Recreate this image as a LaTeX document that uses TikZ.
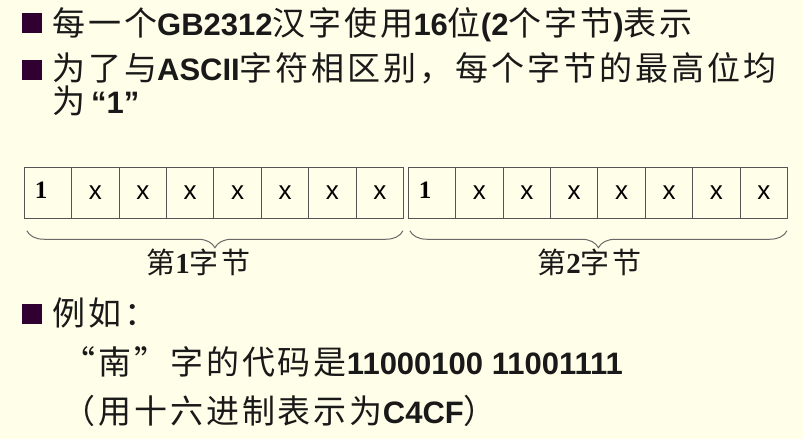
\documentclass[tikz,border=0pt]{standalone}
\usepackage{fontspec}
\setmainfont{Liberation Sans}
\newfontfamily\cjkfont{Noto Sans CJK SC}[LetterSpace=9]
\newfontfamily\arialfont{Liberation Sans}
\newfontfamily\timesfont{Liberation Serif}
\usetikzlibrary{decorations.pathreplacing}
\definecolor{slidebg}{RGB}{255,254,232}
\definecolor{bulletcol}{RGB}{48,0,48}
\definecolor{cellline}{RGB}{85,85,85}
\definecolor{bracecol}{RGB}{105,105,105}
\newcommand{\zh}[1]{{\cjkfont #1}}
\newcommand{\en}[1]{{\arialfont\bfseries\fontsize{31}{36}\selectfont #1}}
\newcommand{\tm}[1]{{\timesfont\bfseries #1}}
\tikzstyle{bullet}=[rectangle,fill=bulletcol,minimum size=20pt,inner sep=0pt]
\tikzstyle{textline}=[anchor=west,inner sep=0pt,text=black!90,font=\cjkfont\fontsize{33}{38}\selectfont]
\tikzstyle{cell}=[draw=cellline,line width=0.9pt,minimum width=47.4pt,minimum height=51pt,inner sep=0pt,font=\arialfont\fontsize{26}{30}\selectfont]
\tikzstyle{bitone}=[anchor=base west,inner sep=0pt,font=\timesfont\bfseries\fontsize{25}{30}\selectfont]
\tikzstyle{bytebrace}=[draw=bracecol,line width=1pt,decorate,decoration={brace,mirror,amplitude=17pt}]
\tikzstyle{bytelabel}=[inner sep=0pt,text=black!90,font=\cjkfont\fontsize{29}{34}\selectfont]

\begin{document}
\begin{tikzpicture}[x=1pt,y=-1pt]

\fill[slidebg] (0,0) rectangle (803,439);
\useasboundingbox (0,0) rectangle (803,439);

	\def\w{47.4};
	\def\h{192.8};

%bullets
    \foreach \pos/\name in {{(32,23)/p1}, {(32,70)/p2}, {(32,314)/p3}}
        \node[bullet] (\name) at \pos {};

%text top
  \node[textline] (t1) at (52,25) {\zh{每一个}\en{GB2312}\zh{汉字使用}\en{16}\zh{位}\en{(2}\zh{个字节}\en{)}\zh{表示}};
  \node[textline] (t2) at (52,68) {\zh{为了与}\en{ASCII}\zh{字符相区别，每个字节的最高位均}};
  \node[textline] (t3) at (52,101) {\zh{为}\hspace{6pt}\en{“1”}};

%byte 1
    \def\base{24.3};
    \foreach \i/\t in {1/,2/x,3/x,4/x,5/x,6/x,7/x,8/x}
        \node[cell] (A\i) at (\base + \i*\w - \w/2, \h) {\t};
%byte 2
    \def\base{408.3};
    \foreach \i/\t in {1/,2/x,3/x,4/x,5/x,6/x,7/x,8/x}
        \node[cell] (B\i) at (\base + \i*\w - \w/2, \h) {\t};

  \node[bitone] (A1one) at ([xshift=10.7pt,yshift=-5.5pt]A1.west) {1};
  \node[bitone] (B1one) at ([xshift=10.7pt,yshift=-5.5pt]B1.west) {1};

%braces
  \draw[bytebrace] ([xshift=3pt,yshift=-12pt]A1.south west) -- ([xshift=-1pt,yshift=-12pt]A8.south east);
  \draw[bytebrace] ([xshift=2pt,yshift=-12pt]B1.south west) -- ([xshift=-1pt,yshift=-12pt]B8.south east);

  \node[bytelabel] (L1) at ([xshift=-16pt,yshift=-44pt]A4.south east) {第\tm{1}字节};
  \node[bytelabel] (L2) at ([xshift=-9pt,yshift=-44pt]B4.south east) {第\tm{2}字节};

%text bottom
  \node[textline] (t4) at (52,313) {\zh{例如：}};
  \node[textline] (t5) at (62,362) {\zh{“南”字的代码是}\en{11000100 11001111}};
  \node[textline] (t6) at (62,411) {\zh{（用十六进制表示为}\en{C4CF}\zh{）}};

\end{tikzpicture}
\end{document}
